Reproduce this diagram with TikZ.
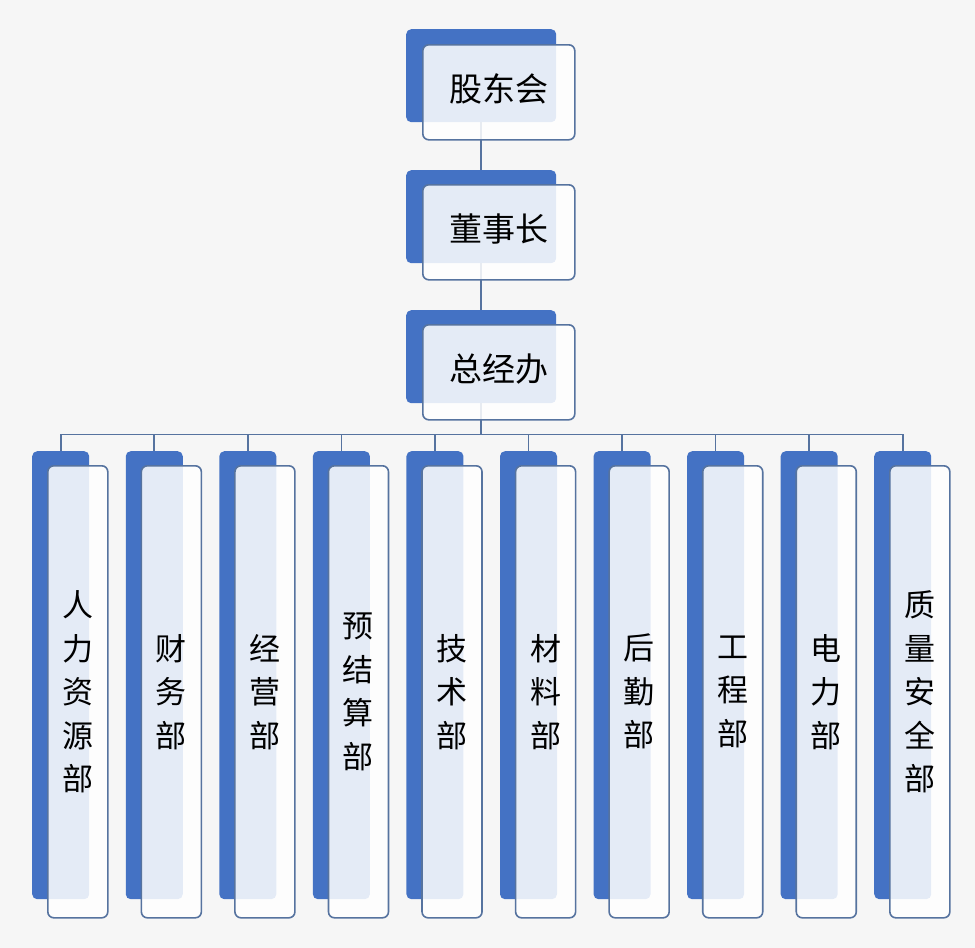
\documentclass[tikz,border=0pt]{standalone}
\usepackage{fontspec}
\newfontfamily\cjk{Noto Sans CJK SC}
\definecolor{boxBlue}{HTML}{4472C4}
\definecolor{lineBlue}{HTML}{56739F}
\definecolor{paper}{HTML}{F6F6F6}
\begin{document}
\begin{tikzpicture}
[x=1pt,y=-1pt,
  backBox/.style={fill=boxBlue,rounded corners=5pt,inner sep=0pt,anchor=north west},%
  frontBox/.style={fill=white,fill opacity=0.86,text opacity=1,draw=lineBlue,line width=1.6pt,
    rounded corners=6pt,inner sep=0pt,anchor=north west},%
  linkLine/.style={draw=lineBlue,line width=1.7pt},%
  headText/.style={font=\cjk\fontsize{33}{40}\selectfont},%
  deptText/.style={font=\cjk\fontsize{31}{43.5}\selectfont,align=center}]
\fill[paper] (0,0) rectangle (975,948);
%% head boxes
\foreach \nodename/\y in {gdh/29, dsz/170, zjb/310}
{
  \node (\nodename-b) at (406,\y) [backBox,minimum width=150pt,minimum height=93pt] {};
}
%% department boxes
\foreach \nodename [count=\i from 0] in {rl, cw, jy, yjs, js, cl, hq, gc, dl, zl}
{
  \node (\nodename-b) at (32+93.56*\i,451) [backBox,minimum width=57pt,minimum height=448pt] {};
}
%% lines
\draw[linkLine] (gdh-b) -- (dsz-b);
\draw[linkLine] (dsz-b) -- (zjb-b);
\coordinate (bus) at ([yshift=-31pt]zjb-b.south);
\foreach \nodename in {rl, cw, jy, yjs, js, cl, hq, gc, dl, zl}
{
  \draw[linkLine] (zjb-b.south) -- (bus) -| (\nodename-b.north);
}
%% front boxes with texts
\foreach \nodename/\y/\label in {gdh/44/股东会, dsz/184/董事长, zjb/324/总经办}
{
  \node (\nodename) at (422,\y) [frontBox,minimum width=152pt,minimum height=95pt] {};
  \node (\nodename-t) at ([yshift=3pt]\nodename.center) [headText] {\label};
}
\foreach \nodename/\label [count=\i from 0] in {rl/人\\力\\资\\源\\部, cw/财\\务\\部, jy/经\\营\\部,
  yjs/预\\结\\算\\部, js/技\\术\\部, cl/材\\料\\部, hq/后\\勤\\部, gc/工\\程\\部,
  dl/电\\力\\部, zl/质\\量\\安\\全\\部}
{
  \node (\nodename) at (47+93.56*\i,465) [frontBox,minimum width=60pt,minimum height=452pt] {};
  \node (\nodename-t) at (\nodename.center) [deptText] {\label};
}
\end{tikzpicture}
\end{document}
